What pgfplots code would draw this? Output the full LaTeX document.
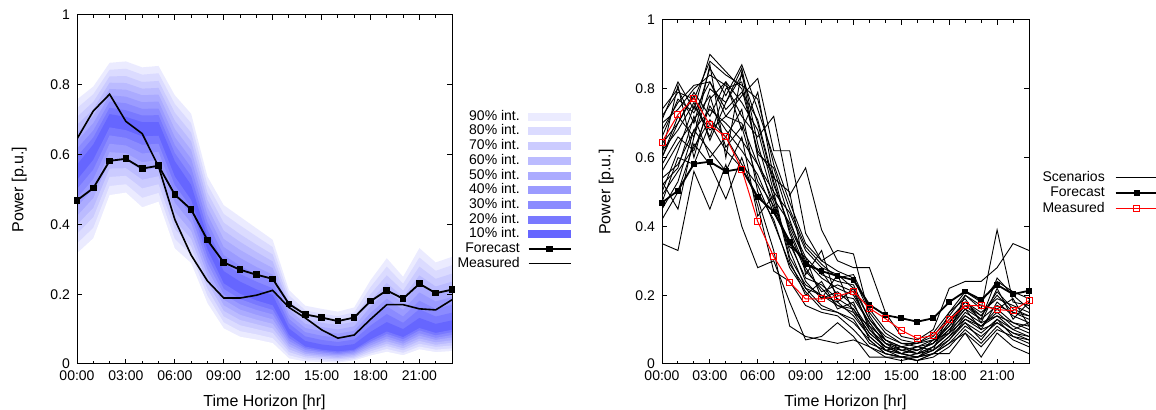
\documentclass[border=0pt]{standalone}
\usepackage{fontspec}
\setmainfont{Liberation Sans}
\usepackage{pgfplots}
\pgfplotsset{compat=1.18}
\usepackage{pgfplotstable}

\definecolor{b9}{HTML}{EBEBFF}
\definecolor{b8}{HTML}{DBDBFF}
\definecolor{b7}{HTML}{CBCBFF}
\definecolor{b6}{HTML}{BBBBFF}
\definecolor{b5}{HTML}{ABABFF}
\definecolor{b4}{HTML}{9B9BFF}
\definecolor{b3}{HTML}{8B8BFF}
\definecolor{b2}{HTML}{7979FF}
\definecolor{b1}{HTML}{6666FF}

\pgfplotstableread{
h u1 u2 u3 u4 u5 u6 u7 u8 u9 l1 l2 l3 l4 l5 l6 l7 l8 l9
0 0.571 0.594 0.617 0.639 0.662 0.685 0.708 0.733 0.758 0.527 0.501 0.475 0.450 0.424 0.399 0.373 0.345 0.317
1 0.629 0.649 0.669 0.690 0.710 0.730 0.751 0.773 0.795 0.585 0.557 0.530 0.502 0.475 0.447 0.420 0.390 0.360
2 0.716 0.734 0.752 0.770 0.788 0.806 0.824 0.843 0.863 0.678 0.655 0.631 0.607 0.583 0.560 0.536 0.510 0.484
3 0.708 0.727 0.747 0.766 0.786 0.805 0.825 0.846 0.867 0.670 0.648 0.626 0.604 0.583 0.561 0.539 0.515 0.491
4 0.693 0.712 0.731 0.750 0.770 0.789 0.808 0.829 0.850 0.652 0.628 0.603 0.578 0.553 0.528 0.503 0.476 0.449
5 0.693 0.713 0.732 0.752 0.772 0.791 0.811 0.833 0.854 0.654 0.631 0.608 0.585 0.562 0.538 0.515 0.490 0.465
6 0.581 0.604 0.627 0.650 0.673 0.697 0.720 0.745 0.770 0.537 0.512 0.487 0.462 0.436 0.411 0.386 0.358 0.331
7 0.513 0.538 0.563 0.588 0.613 0.638 0.663 0.690 0.717 0.470 0.448 0.426 0.404 0.381 0.359 0.337 0.313 0.289
8 0.364 0.385 0.406 0.428 0.449 0.470 0.491 0.514 0.537 0.328 0.309 0.290 0.271 0.253 0.234 0.215 0.195 0.174
9 0.266 0.289 0.312 0.335 0.358 0.382 0.405 0.430 0.455 0.231 0.215 0.199 0.184 0.168 0.152 0.136 0.119 0.102
10 0.236 0.258 0.281 0.304 0.327 0.350 0.372 0.397 0.422 0.201 0.186 0.171 0.156 0.141 0.126 0.111 0.094 0.078
11 0.214 0.236 0.257 0.278 0.300 0.321 0.342 0.366 0.389 0.182 0.169 0.155 0.141 0.127 0.114 0.100 0.085 0.070
12 0.198 0.217 0.236 0.256 0.275 0.294 0.314 0.335 0.356 0.168 0.155 0.142 0.128 0.115 0.102 0.089 0.074 0.060
13 0.102 0.116 0.129 0.142 0.156 0.169 0.183 0.197 0.212 0.083 0.074 0.066 0.058 0.050 0.042 0.034 0.025 0.016
14 0.066 0.079 0.091 0.103 0.115 0.128 0.140 0.154 0.167 0.050 0.045 0.040 0.034 0.029 0.024 0.019 0.013 0.007
15 0.056 0.069 0.081 0.094 0.106 0.118 0.131 0.144 0.158 0.041 0.037 0.033 0.028 0.024 0.020 0.015 0.011 0.006
16 0.051 0.063 0.075 0.087 0.099 0.112 0.124 0.137 0.150 0.036 0.032 0.028 0.025 0.021 0.017 0.013 0.008 0.004
17 0.057 0.070 0.082 0.095 0.108 0.121 0.134 0.148 0.162 0.041 0.038 0.034 0.030 0.026 0.022 0.018 0.014 0.010
18 0.092 0.110 0.128 0.146 0.164 0.182 0.200 0.220 0.240 0.070 0.064 0.059 0.053 0.047 0.042 0.036 0.030 0.024
19 0.120 0.143 0.165 0.187 0.210 0.232 0.254 0.279 0.303 0.093 0.086 0.079 0.072 0.065 0.058 0.051 0.043 0.035
20 0.100 0.118 0.136 0.155 0.173 0.192 0.210 0.230 0.250 0.077 0.071 0.064 0.058 0.052 0.045 0.039 0.032 0.025
21 0.132 0.157 0.181 0.205 0.230 0.254 0.279 0.305 0.332 0.103 0.096 0.088 0.081 0.073 0.066 0.058 0.050 0.042
22 0.115 0.136 0.158 0.179 0.201 0.222 0.244 0.267 0.291 0.089 0.082 0.075 0.069 0.062 0.055 0.049 0.041 0.034
23 0.125 0.147 0.170 0.192 0.214 0.236 0.259 0.283 0.307 0.098 0.091 0.083 0.076 0.068 0.061 0.053 0.045 0.037
}\bands

\pgfplotstableread{
h forecast measured
0 0.469 0.645
1 0.504 0.725
2 0.582 0.773
3 0.588 0.695
4 0.560 0.660
5 0.568 0.566
6 0.485 0.414
7 0.443 0.312
8 0.355 0.238
9 0.291 0.189
10 0.270 0.189
11 0.256 0.197
12 0.244 0.211
13 0.172 0.162
14 0.142 0.132
15 0.133 0.098
16 0.123 0.074
17 0.133 0.083
18 0.180 0.128
19 0.211 0.170
20 0.187 0.170
21 0.230 0.158
22 0.203 0.155
23 0.213 0.184
}\fm

\pgfplotstableread{
h s1 s2 s3 s4 s5 s6 s7 s8 s9 s10 s11 s12 s13 s14 s15 s16 s17 s18 s19 s20 s21 s22
0 0.60 0.50 0.71 0.45 0.64 0.35 0.74 0.58 0.52 0.68 0.47 0.62 0.56 0.70 0.42 0.66 0.54 0.60 0.49 0.72 0.61 0.53
1 0.72 0.62 0.82 0.53 0.70 0.33 0.80 0.66 0.57 0.76 0.60 0.68 0.64 0.74 0.50 0.77 0.58 0.70 0.56 0.79 0.81 0.45
2 0.66 0.75 0.74 0.68 0.79 0.56 0.70 0.62 0.72 0.81 0.58 0.76 0.71 0.80 0.64 0.73 0.68 0.78 0.63 0.77 0.60 0.66
3 0.80 0.68 0.90 0.62 0.72 0.45 0.86 0.75 0.60 0.82 0.70 0.66 0.78 0.84 0.58 0.82 0.74 0.65 0.71 0.88 0.77 0.87
4 0.76 0.72 0.85 0.56 0.82 0.58 0.78 0.68 0.66 0.72 0.62 0.80 0.63 0.81 0.48 0.74 0.70 0.76 0.66 0.84 0.82 0.60
5 0.84 0.70 0.80 0.66 0.76 0.40 0.87 0.62 0.74 0.78 0.57 0.82 0.69 0.72 0.60 0.79 0.65 0.86 0.58 0.81 0.68 0.85
6 0.70 0.58 0.62 0.43 0.68 0.28 0.74 0.55 0.50 0.83 0.48 0.61 0.53 0.66 0.46 0.71 0.58 0.64 0.52 0.77 0.79 0.60
7 0.52 0.47 0.55 0.49 0.50 0.30 0.60 0.44 0.42 0.62 0.33 0.57 0.46 0.72 0.27 0.53 0.50 0.48 0.41 0.58 0.54 0.45
8 0.40 0.33 0.38 0.30 0.44 0.18 0.47 0.36 0.28 0.62 0.11 0.42 0.35 0.49 0.24 0.39 0.31 0.41 0.29 0.45 0.50 0.34
9 0.30 0.22 0.27 0.20 0.33 0.07 0.35 0.24 0.21 0.38 0.08 0.29 0.25 0.57 0.17 0.28 0.23 0.31 0.22 0.34 0.26 0.31
10 0.25 0.20 0.22 0.24 0.28 0.08 0.30 0.19 0.16 0.30 0.07 0.27 0.23 0.39 0.15 0.21 0.20 0.26 0.17 0.29 0.33 0.19
11 0.22 0.18 0.17 0.16 0.26 0.12 0.27 0.21 0.15 0.33 0.06 0.20 0.19 0.30 0.14 0.23 0.17 0.24 0.15 0.25 0.18 0.26
12 0.20 0.14 0.16 0.18 0.22 0.08 0.25 0.17 0.13 0.32 0.07 0.19 0.16 0.28 0.10 0.21 0.15 0.23 0.12 0.26 0.22 0.15
13 0.12 0.08 0.09 0.07 0.13 0.02 0.15 0.10 0.06 0.14 0.05 0.12 0.09 0.28 0.05 0.11 0.08 0.13 0.07 0.16 0.10 0.11
14 0.06 0.04 0.05 0.03 0.08 0.02 0.09 0.05 0.04 0.07 0.03 0.06 0.05 0.15 0.02 0.07 0.04 0.07 0.03 0.10 0.06 0.04
15 0.04 0.03 0.03 0.02 0.06 0.01 0.06 0.04 0.02 0.05 0.02 0.05 0.03 0.08 0.02 0.04 0.03 0.05 0.02 0.07 0.03 0.05
16 0.03 0.02 0.04 0.01 0.05 0.02 0.06 0.03 0.03 0.04 0.01 0.04 0.02 0.07 0.02 0.05 0.02 0.06 0.01 0.06 0.05 0.03
17 0.05 0.04 0.06 0.03 0.07 0.03 0.08 0.05 0.04 0.06 0.02 0.06 0.05 0.10 0.03 0.06 0.04 0.07 0.03 0.09 0.04 0.07
18 0.10 0.08 0.11 0.06 0.13 0.03 0.14 0.09 0.07 0.12 0.05 0.10 0.09 0.22 0.06 0.12 0.08 0.11 0.07 0.15 0.15 0.09
19 0.14 0.12 0.16 0.09 0.18 0.09 0.20 0.15 0.13 0.17 0.10 0.16 0.13 0.24 0.11 0.18 0.14 0.17 0.12 0.21 0.19 0.20
20 0.11 0.09 0.10 0.05 0.14 0.02 0.16 0.12 0.10 0.13 0.06 0.13 0.11 0.24 0.08 0.15 0.11 0.14 0.07 0.18 0.12 0.17
21 0.16 0.13 0.18 0.10 0.20 0.09 0.39 0.14 0.12 0.25 0.11 0.17 0.15 0.28 0.12 0.19 0.14 0.21 0.13 0.24 0.22 0.16
22 0.12 0.10 0.14 0.08 0.15 0.05 0.18 0.12 0.09 0.20 0.07 0.15 0.11 0.35 0.09 0.17 0.10 0.16 0.08 0.21 0.13 0.19
23 0.10 0.08 0.12 0.06 0.14 0.03 0.17 0.11 0.07 0.16 0.05 0.13 0.09 0.33 0.08 0.15 0.12 0.14 0.07 0.19 0.18 0.11
}\scen

\pgfplotsset{
 myax/.style={
  scale only axis, xmin=0, xmax=23, ymin=0, ymax=1,
  axis on top,
  xtick={0,3,6,9,12,15,18,21},
  xticklabels={00:00,03:00,06:00,09:00,12:00,15:00,18:00,21:00},
  minor xtick={1,2,4,5,7,8,10,11,13,14,16,17,19,20,22},
  ytick={0,0.2,0.4,0.6,0.8,1},
  yticklabels={0,0.2,0.4,0.6,0.8,1},
  tick align=inside, major tick length=2.5pt, minor tick length=1.5pt,
  axis line style={line width=0.5pt},
  every tick/.style={black, line width=0.5pt},
  tick label style={font=\fontsize{7}{8}\selectfont},
  label style={font=\fontsize{8}{9}\selectfont},
  xlabel={Time Horizon [hr]}, ylabel={Power [p.u.]},
  ylabel style={yshift=5pt},
  legend plot pos=right, legend cell align=right,
  legend style={draw=none, fill=none, inner sep=0pt, anchor=north west,
    font=\fontsize{7}{7}\selectfont,
    nodes={inner sep=0.5pt, text height=5pt, text depth=1.35pt},
    row sep=0pt, column sep=3.5pt},
  legend image code/.code={\draw[mark repeat=2,mark phase=2,##1] plot coordinates {(0pt,0pt) (10.5pt,0pt) (21pt,0pt)};},
 },
 bandleg/.style={legend image code/.code={\fill[#1] (0pt,-1.75pt) rectangle (21pt,1.75pt);}},
}

\begin{document}
\begin{tikzpicture}
\useasboundingbox (0,0) rectangle (578pt,205pt);

\begin{axis}[myax, at={(38.5pt,23pt)}, anchor=south west,
  width=187.5pt, height=174.5pt,
  legend style={at={(1.011,0.731)}}]
\addplot[fill=b9, draw=none, forget plot] table[x=h,y=u9]{\bands} \closedcycle;
\addplot[fill=b8, draw=none, forget plot] table[x=h,y=u8]{\bands} \closedcycle;
\addplot[fill=b7, draw=none, forget plot] table[x=h,y=u7]{\bands} \closedcycle;
\addplot[fill=b6, draw=none, forget plot] table[x=h,y=u6]{\bands} \closedcycle;
\addplot[fill=b5, draw=none, forget plot] table[x=h,y=u5]{\bands} \closedcycle;
\addplot[fill=b4, draw=none, forget plot] table[x=h,y=u4]{\bands} \closedcycle;
\addplot[fill=b3, draw=none, forget plot] table[x=h,y=u3]{\bands} \closedcycle;
\addplot[fill=b2, draw=none, forget plot] table[x=h,y=u2]{\bands} \closedcycle;
\addplot[fill=b1, draw=none, forget plot] table[x=h,y=u1]{\bands} \closedcycle;
\addplot[fill=b2, draw=none, forget plot] table[x=h,y=l1]{\bands} \closedcycle;
\addplot[fill=b3, draw=none, forget plot] table[x=h,y=l2]{\bands} \closedcycle;
\addplot[fill=b4, draw=none, forget plot] table[x=h,y=l3]{\bands} \closedcycle;
\addplot[fill=b5, draw=none, forget plot] table[x=h,y=l4]{\bands} \closedcycle;
\addplot[fill=b6, draw=none, forget plot] table[x=h,y=l5]{\bands} \closedcycle;
\addplot[fill=b7, draw=none, forget plot] table[x=h,y=l6]{\bands} \closedcycle;
\addplot[fill=b8, draw=none, forget plot] table[x=h,y=l7]{\bands} \closedcycle;
\addplot[fill=b9, draw=none, forget plot] table[x=h,y=l8]{\bands} \closedcycle;
\addplot[fill=white, draw=none, forget plot] table[x=h,y=l9]{\bands} \closedcycle;
\addlegendimage{bandleg=b9}\addlegendentry{90\% int.}
\addlegendimage{bandleg=b8}\addlegendentry{80\% int.}
\addlegendimage{bandleg=b7}\addlegendentry{70\% int.}
\addlegendimage{bandleg=b6}\addlegendentry{60\% int.}
\addlegendimage{bandleg=b5}\addlegendentry{50\% int.}
\addlegendimage{bandleg=b4}\addlegendentry{40\% int.}
\addlegendimage{bandleg=b3}\addlegendentry{30\% int.}
\addlegendimage{bandleg=b2}\addlegendentry{20\% int.}
\addlegendimage{bandleg=b1}\addlegendentry{10\% int.}
\addplot[black, line width=0.9pt, mark=square*, mark size=1.2pt, mark options={solid}] table[x=h,y=forecast]{\fm};
\addlegendentry{Forecast}
\addplot[black, line width=0.8pt] table[x=h,y=measured]{\fm};
\addlegendentry{Measured}
\end{axis}

\begin{axis}[myax, at={(331pt,23pt)}, anchor=south west,
  width=183.5pt, height=172pt,
  ylabel style={yshift=-1pt},
  legend style={at={(1.033,0.565)}, row sep=0.4pt, column sep=4.5pt}]
\addlegendimage{black, line width=0.5pt}\addlegendentry{Scenarios}
\pgfplotsinvokeforeach{1,...,22}{
  \addplot[black, line width=0.45pt, forget plot] table[x=h, y=s#1]{\scen};
}
\addplot[black, line width=0.9pt, mark=square*, mark size=1.0pt, mark options={solid}] table[x=h,y=forecast]{\fm};
\addlegendentry{Forecast}
\addplot[red, line width=0.5pt, mark=square, mark size=1.5pt, mark options={solid}] table[x=h,y=measured]{\fm};
\addlegendentry{Measured}
\end{axis}
\end{tikzpicture}
\end{document}
